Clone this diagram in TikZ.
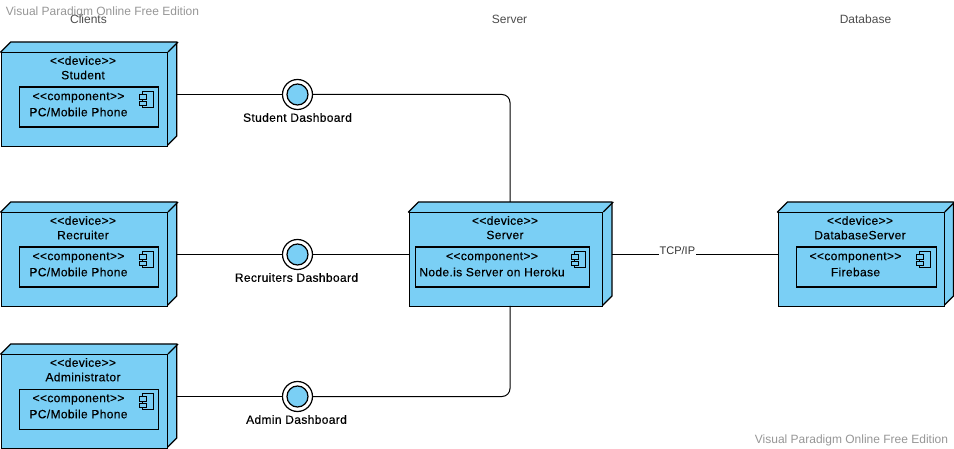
\documentclass[tikz,border=0pt]{standalone}
\usepackage{fontspec}
\setmainfont{Liberation Sans}
\newfontfamily\boldishfont[FakeBold=0.35, LetterSpace=3]{Liberation Sans}
\definecolor{nodeblue}{RGB}{122,207,245}
\definecolor{markgray}{RGB}{150,150,150}
\tikzset{
  devbox/.style={draw, line width=1.3pt, fill=nodeblue, inner sep=0pt, anchor=north west},
  compbox/.style={draw, line width=1.2pt, fill=nodeblue, inner sep=0pt, anchor=north west},
  label/.style={font=\boldishfont\fontsize{12}{12}\selectfont, inner sep=0pt, text=black},
  title/.style={font=\fontsize{12}{12}\selectfont, inner sep=0pt, text=black!70},
  ifaceouter/.style={circle, draw, line width=1.2pt, fill=white, minimum size=30pt, inner sep=0pt},
  ifaceinner/.style={circle, draw, line width=1.2pt, fill=nodeblue, minimum size=21pt, inner sep=0pt},
  wire/.style={line width=1pt},
  watermark/.style={font=\fontsize{12}{12}\selectfont, inner sep=0pt, text=markgray}
}
% front face at (x,y), size w by h, with the top and right faces behind it
\newcommand{\devshape}[5]{
  \filldraw[line width=1.3pt, fill=nodeblue, line join=round]
    (#2, #3) -- ++(10, -10) -- ++(#4, 0) -- ++(0, #5) -- ++(-10, 10) -- cycle;
  \node[devbox, minimum width=#4pt, minimum height=#5pt] (#1) at (#2, #3) {};
  \draw[line width=1.3pt] (#1.north east) -- ++(10, -10);
}
% small component mark, top left of the body at (x,y)
\newcommand{\compicon}[2]{
  \draw[line width=0.9pt, fill=nodeblue] (#1+3, #2) rectangle ++(11, 15.5);
  \draw[line width=0.9pt, fill=nodeblue] (#1, #2+3) rectangle ++(7, 4.5);
  \draw[line width=0.9pt, fill=nodeblue] (#1, #2+9.5) rectangle ++(7, 4.5);
}
\newcommand{\stereo}[1]{{<}{<}#1{>}{>}}
\begin{document}
\begin{tikzpicture}[x=1pt, y=-1pt]
\useasboundingbox (0, 0) rectangle (954, 449);

% Watermarks and column titles
\node[watermark] (markTop) at (102.5, 12) {Visual Paradigm Online Free Edition};
\node[watermark] (markBottom) at (851.5, 440) {Visual Paradigm Online Free Edition};
\node[title] (titleClients) at (88.5, 19) {Clients};
\node[title] (titleServer) at (509.5, 19) {Server};
\node[title] (titleDatabase) at (865.5, 19) {Database};

% Clients: name/title/top of the front face
\foreach \dname/\dtitle/\yt in {student/Student/52, recruiter/Recruiter/212, admin/Administrator/354} {
  \devshape{\dname}{0.75}{\yt}{166}{94}
  \node[label] (\dname Stereo) at (83, \yt+8.5) {\stereo{device}};
  \node[label] (\dname Title) at (83, \yt+23) {\dtitle};
  \node[compbox, minimum width=139.5pt, minimum height=40pt] (\dname Comp) at (18.75, \yt+34.5) {};
  \node[label] (\dname CompStereo) at (78.5, \yt+45.5) {\stereo{component}};
  \node[label] (\dname CompTitle) at (78.5, \yt+60) {PC/Mobile Phone};
  \compicon{139.5}{\yt+39.5}
}

% Server
\devshape{server}{408.5}{212}{193.5}{94}
\node[label] (serverStereo) at (505, 220.5) {\stereo{device}};
\node[label] (serverTitle) at (505, 235) {Server};
\node[compbox, minimum width=174.5pt, minimum height=40pt] (serverComp) at (414.75, 246.5) {};
\node[label] (serverCompStereo) at (492, 257.5) {\stereo{component}};
\node[label] (serverCompTitle) at (492, 272) {Node.is Server on Heroku};
\compicon{571}{251.5}

% Database
\devshape{database}{777.5}{212}{166}{94}
\node[label] (databaseStereo) at (860, 220.5) {\stereo{device}};
\node[label] (databaseTitle) at (860, 235) {DatabaseServer};
\node[compbox, minimum width=139.5pt, minimum height=40pt] (databaseComp) at (796, 246.5) {};
\node[label] (databaseCompStereo) at (855.5, 257.5) {\stereo{component}};
\node[label] (databaseCompTitle) at (855.5, 272) {Firebase};
\compicon{916.5}{251.5}

% Interfaces
\foreach \iname/\yi/\ilbl/\xl in {Student/94.5/Student Dashboard/297.5, Recruiter/254.5/Recruiters Dashboard/296.5, Admin/396.5/Admin Dashboard/296.5} {
  \node[ifaceouter] (iface\iname) at (297.5, \yi) {};
  \node[ifaceinner] (core\iname) at (297.5, \yi) {};
  \node[label] (label\iname) at (\xl, \yi+23) {\ilbl};
}

% Ports on the top, bottom and right faces
\coordinate (studentPort) at (176, 94.5);
\coordinate (recruiterPort) at (176, 254.5);
\coordinate (adminPort) at (176, 396.5);
\coordinate (serverTop) at (510, 202);
\coordinate (serverBottom) at (510, 306);
\coordinate (serverRight) at (612, 254.5);

% Connectors
\draw[wire] (studentPort) -- (ifaceStudent);
\draw[wire] (recruiterPort) -- (ifaceRecruiter);
\draw[wire] (adminPort) -- (ifaceAdmin);
\draw[wire, rounded corners=8pt] (ifaceStudent) -| (serverTop);
\draw[wire] (ifaceRecruiter) -- (server.west |- ifaceRecruiter);
\draw[wire, rounded corners=8pt] (ifaceAdmin) -| (serverBottom);
\draw[wire] (serverRight) -- (database.west |- serverRight)
  node[pos=0.395, font=\fontsize{11}{11}\selectfont, fill=white, inner sep=1pt, text=black!80, yshift=4pt] (tcpLabel) {TCP/IP};

\end{tikzpicture}
\end{document}
